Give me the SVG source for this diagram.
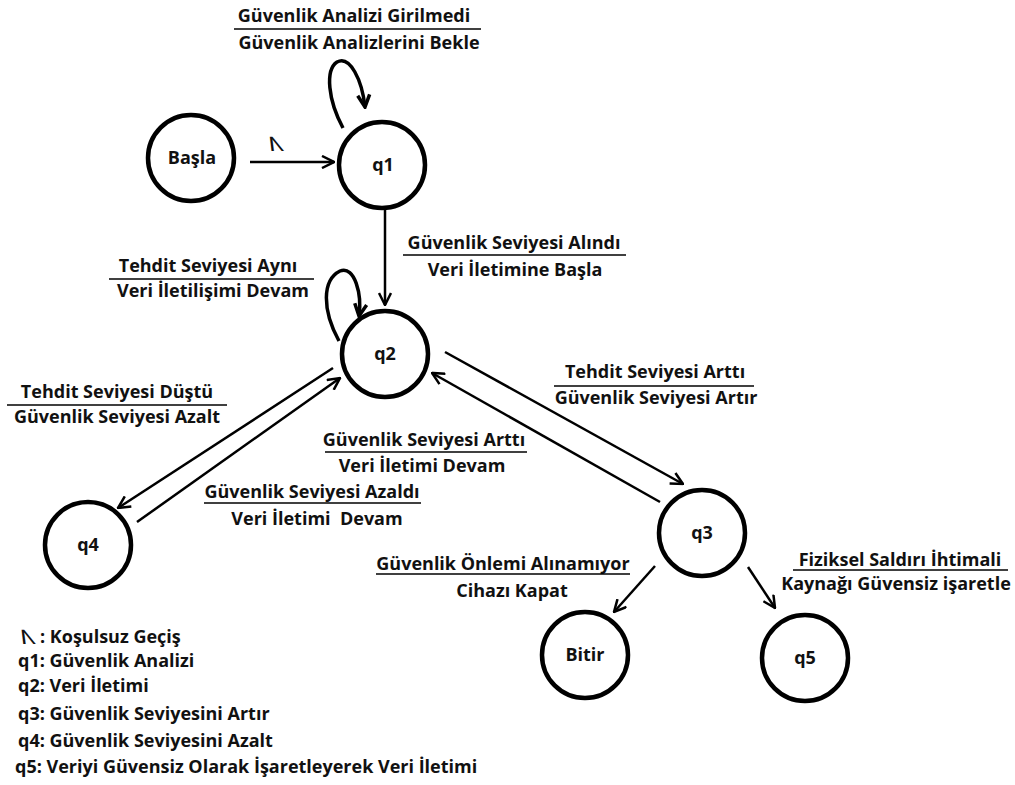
<svg xmlns="http://www.w3.org/2000/svg" width="1015" height="785" viewBox="0 0 1015 785">
<style>
text{font-family:"Open Sans",Lato,"Liberation Sans",sans-serif;font-weight:700;fill:#111;font-size:18px}
.m{text-anchor:middle}
.node circle{fill:#fff;stroke:#000;stroke-width:4.5}
.conn path,.conn line{fill:none;stroke:#000;stroke-width:2.5}
.rule{stroke:#000;stroke-width:1.5}
.lam{font-size:20px;font-weight:600}
</style>
<defs>
<marker id="ah" viewBox="0 0 14 14" refX="13" refY="7" markerWidth="14" markerHeight="14" markerUnits="userSpaceOnUse" orient="auto">
<path d="M1,1 L13,7 L1,13" fill="none" stroke="#000" stroke-width="2.5"/>
</marker>
<marker id="ah2" viewBox="0 0 16 16" refX="14" refY="8" markerWidth="16" markerHeight="16" markerUnits="userSpaceOnUse" orient="auto">
<path d="M2,2 L14,8 L2,14" fill="none" stroke="#000" stroke-width="3.5"/>
</marker>
</defs>
<rect width="1015" height="785" fill="#fff"/>
<g class="conn">
<line x1="250" y1="162" x2="334" y2="162" marker-end="url(#ah)"/>
<line x1="385" y1="208" x2="385" y2="305" marker-end="url(#ah)"/>
<path d="M343,128 C328,100 325,70 337,62 C350,55 362,80 365,107" marker-end="url(#ah2)" style="stroke-width:3.5"/>
<path d="M339,341 C322,310 322,280 340,271 C355,265 362,295 359,316" marker-end="url(#ah2)" style="stroke-width:3.5"/>
<line x1="333" y1="368" x2="118" y2="508" marker-end="url(#ah)"/>
<line x1="137" y1="522" x2="340" y2="378" marker-end="url(#ah)"/>
<line x1="445" y1="352" x2="683" y2="484" marker-end="url(#ah)"/>
<line x1="660" y1="502" x2="432" y2="373" marker-end="url(#ah)"/>
<line x1="655" y1="566" x2="614" y2="612" marker-end="url(#ah)"/>
<line x1="748" y1="567" x2="775" y2="608" marker-end="url(#ah)"/>
</g>
<g id="basla" class="node"><circle cx="191" cy="158" r="43"/><text class="m" x="192" y="164">Başla</text></g>
<g id="q1" class="node"><circle cx="382" cy="165" r="43"/><text class="m" x="383" y="171">q1</text></g>
<g id="q2" class="node"><circle cx="385" cy="354" r="43"/><text class="m" x="385" y="360">q2</text></g>
<g id="q4" class="node"><circle cx="88" cy="545" r="43"/><text class="m" x="88" y="551">q4</text></g>
<g id="q3" class="node"><circle cx="702" cy="533" r="43"/><text class="m" x="702" y="539">q3</text></g>
<g id="bitir" class="node"><circle cx="585" cy="655" r="43"/><text class="m" x="585" y="661">Bitir</text></g>
<g id="q5" class="node"><circle cx="805" cy="658" r="43"/><text class="m" x="805" y="664">q5</text></g>
<g id="labels">
<text class="lam" x="271" y="151" transform="skewX(25) translate(-70,0)">Λ</text>
<text class="m" x="354" y="22">Güvenlik Analizi Girilmedi</text>
<line class="rule" x1="234" y1="29" x2="481" y2="29"/>
<text class="m" x="359" y="49">Güvenlik Analizlerini Bekle</text>
<text class="m" x="514" y="249">Güvenlik Seviyesi Alındı</text>
<line class="rule" x1="403" y1="255" x2="626" y2="255"/>
<text class="m" x="515" y="276">Veri İletimine Başla</text>
<text class="m" x="208" y="272">Tehdit Seviyesi Aynı</text>
<line class="rule" x1="109" y1="279" x2="314" y2="279"/>
<text class="m" x="213" y="297">Veri İletilişimi Devam</text>
<text class="m" x="117" y="398">Tehdit Seviyesi Düştü</text>
<line class="rule" x1="7" y1="405" x2="227" y2="405"/>
<text class="m" x="117" y="423">Güvenlik Seviyesi Azalt</text>
<text class="m" x="424" y="446">Güvenlik Seviyesi Arttı</text>
<line class="rule" x1="325" y1="452" x2="527" y2="452"/>
<text class="m" x="422" y="472">Veri İletimi Devam</text>
<text class="m" x="312" y="498">Güvenlik Seviyesi Azaldı</text>
<line class="rule" x1="204" y1="503" x2="421" y2="503"/>
<text class="m" x="317" y="525" xml:space="preserve">Veri İletimi  Devam</text>
<text class="m" x="655" y="378">Tehdit Seviyesi Arttı</text>
<line class="rule" x1="554" y1="386" x2="754" y2="386"/>
<text class="m" x="656" y="404">Güvenlik Seviyesi Artır</text>
<text class="m" x="503" y="570">Güvenlik Önlemi Alınamıyor</text>
<line class="rule" x1="376" y1="574" x2="630" y2="574"/>
<text class="m" x="512" y="597">Cihazı Kapat</text>
<text class="m" x="900" y="566">Fiziksel Saldırı İhtimali</text>
<line class="rule" x1="793" y1="570" x2="1008" y2="570"/>
<text class="m" x="896" y="590">Kaynağı Güvensiz işaretle</text>
</g>
<g id="legend">
<text class="lam" x="23" y="644" transform="skewX(25) translate(-300,0)">Λ</text>
<text x="40" y="643">: Koşulsuz Geçiş</text>
<text x="18" y="667">q1: Güvenlik Analizi</text>
<text x="18" y="692">q2: Veri İletimi</text>
<text x="18" y="720">q3: Güvenlik Seviyesini Artır</text>
<text x="18" y="747">q4: Güvenlik Seviyesini Azalt</text>
<text x="15" y="773">q5: Veriyi Güvensiz Olarak İşaretleyerek Veri İletimi</text>
</g>
</svg>
